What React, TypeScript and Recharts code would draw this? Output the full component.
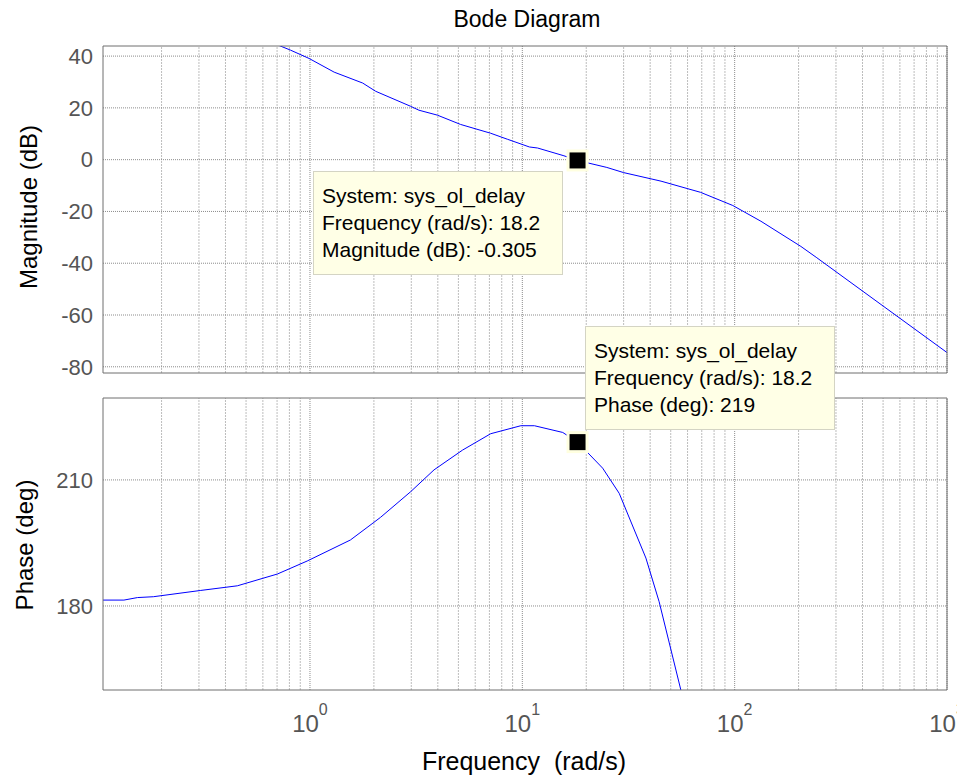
import React from 'react';
import { LineChart, Line, XAxis, YAxis, ReferenceLine, ReferenceDot } from 'recharts';

// magnitude curve (rad/s, dB)
const magFreq = [0.71, 0.81, 0.99, 1.3, 1.77, 2.04, 2.98, 3.26, 3.98, 5.12, 7.1, 8.5, 10.8, 11.8, 15.7, 18.2, 25, 30, 45, 69, 98, 133, 205, 242, 563, 1000];
const magDb = [44.2, 42.3, 39.1, 33.8, 29.6, 26.4, 20.6, 19.1, 17.2, 13.6, 10.2, 7.9, 4.9, 4.5, 1.5, -0.305, -3.0, -5.0, -8.3, -12.6, -17.7, -23.8, -33.5, -37.7, -59.6, -74.5];

// phase curve (rad/s, deg)
const phaseFreq = [0.106, 0.133, 0.154, 0.183, 0.306, 0.455, 0.702, 0.97, 1.55, 2.0, 2.15, 2.98, 3.84, 5.23, 7.1, 9.84, 11.4, 15.5, 18.2, 23.9, 28.6, 38.2, 44.1, 55.8];
const phaseDeg = [181.4, 181.4, 182.0, 182.2, 183.7, 184.8, 187.6, 190.7, 195.7, 199.9, 201.1, 207.2, 212.4, 217.1, 221.0, 222.9, 222.9, 221.3, 219.0, 212.8, 206.8, 191.4, 181.0, 160.0];

const decadeTicks = [1, 10, 100, 1000];
const decadeExp = ['0', '1', '2', '3'];
const minorTicks = [0.2, 0.3, 0.4, 0.5, 0.6, 0.7, 0.8, 0.9, 2, 3, 4, 5, 6, 7, 8, 9, 20, 30, 40, 50, 60, 70, 80, 90, 200, 300, 400, 500, 600, 700, 800, 900];
const magTicks = [-80, -60, -40, -20, 0, 20, 40];
const phaseTicks = [180, 210];

const markFreq = 18.2;
const markMag = -0.305;
const markPhase = 219;
const tipMag = ['System: sys_ol_delay', 'Frequency (rad/s): 18.2', 'Magnitude (dB): -0.305'];
const tipPhase = ['System: sys_ol_delay', 'Frequency (rad/s): 18.2', 'Phase (deg): 219'];

const xDomain = [0.106, 1000];
const magDomain = [-82.4, 43.9];
const phaseDomain = [160, 229.5];

const FONT = '"Liberation Sans", Arial, Helvetica, sans-serif';
const frameColor = '#6e6e6e';
const labelGray = '#555555';

const magData = magFreq.map((f, i) => ({ f, v: magDb[i] }));
const phaseData = phaseFreq.map((f, i) => ({ f, v: phaseDeg[i] }));

// MATLAB-ish box: inward ticks on all four sides (axes need a size > 0 or they don't render)
function frameAxes(yDomain: number[], yTicks: number[]) {
    const common = {
        type: 'number' as const,
        scale: 'log' as const,
        domain: xDomain,
        allowDataOverflow: true,
        mirror: true,
        height: 1,
        interval: 0,
        tick: false,
        tickLine: { stroke: frameColor },
    };
    return [
        <XAxis key="tmaj" xAxisId="tmaj" orientation="top" ticks={decadeTicks} tickSize={7} axisLine={{ stroke: frameColor }} {...common} />,
        <XAxis key="tmin" xAxisId="tmin" orientation="top" ticks={minorTicks} tickSize={4} axisLine={false} {...common} />,
        <XAxis key="bmaj" xAxisId="bmaj" orientation="bottom" ticks={decadeTicks} tickSize={7} axisLine={{ stroke: frameColor }} {...common} />,
        <XAxis key="bmin" xAxisId="bmin" orientation="bottom" ticks={minorTicks} tickSize={4} axisLine={false} {...common} />,
        <YAxis key="lt" yAxisId="lt" orientation="left" mirror width={1} type="number" domain={yDomain} allowDataOverflow ticks={yTicks} interval={0} tick={false} tickSize={6} axisLine={false} tickLine={{ stroke: frameColor }} />,
        <YAxis key="rt" yAxisId="rt" orientation="right" mirror width={1} type="number" domain={yDomain} allowDataOverflow ticks={yTicks} interval={0} tick={false} tickSize={6} axisLine={{ stroke: frameColor }} tickLine={{ stroke: frameColor }} />,
    ];
}

function gridLines(yTicks: number[]) {
    return [
        ...minorTicks.map(t => (
            <ReferenceLine key={`mn${t}`} xAxisId="x" yAxisId="l" x={t} stroke="#bdbdbd" strokeDasharray="2 1" />
        )),
        ...decadeTicks.map(t => (
            <ReferenceLine key={`mj${t}`} xAxisId="x" yAxisId="l" x={t} stroke="#8c8c8c" strokeDasharray="1 1" />
        )),
        ...yTicks.map(t => (
            <ReferenceLine key={`h${t}`} xAxisId="x" yAxisId="l" y={t} stroke="#8c8c8c" strokeDasharray="1 1" />
        )),
    ];
}

// eslint-disable-next-line @typescript-eslint/no-explicit-any
const MarkerShape = (props: any) => {
    const { cx, cy } = props;
    return (
        <g>
            <rect x={cx - 11} y={cy - 11} width={22} height={22} fill="#ffffe0" />
            <rect x={cx - 8} y={cy - 8} width={16} height={16} fill="#000" />
        </g>
    );
};

// eslint-disable-next-line @typescript-eslint/no-explicit-any
const DecadeTick = (props: any) => {
    const { x, y, payload } = props;
    const i = decadeTicks.indexOf(payload.value);
    return (
        <text x={x} y={y + 34} textAnchor="middle" fill={labelGray} fontSize={24} fontFamily={FONT}>
            10<tspan dy={-17} fontSize={16}>{decadeExp[i]}</tspan>
        </text>
    );
};

function DataTip({ left, top, lines }: { left: number; top: number; lines: string[] }) {
    return (
        <div
            style={{
                position: 'absolute',
                left,
                top,
                width: 250,
                height: 104,
                boxSizing: 'border-box',
                border: '1px solid #d4d4c4',
                background: '#ffffe6',
                padding: '10px 0 0 8px',
                fontSize: 21,
                lineHeight: '27px',
                color: '#000',
                whiteSpace: 'nowrap',
            }}
        >
            {lines.map(l => (
                <div key={l}>{l}</div>
            ))}
        </div>
    );
}

const yTitle = (text: string, cx: number, cy: number) => (
    <div
        style={{
            position: 'absolute',
            left: cx,
            top: cy,
            transform: 'translate(-50%, -50%) rotate(-90deg)',
            fontSize: 24,
            lineHeight: 1,
            whiteSpace: 'nowrap',
            color: '#000',
        }}
    >
        {text}
    </div>
);

export default function App() {
    return (
        <div style={{ position: 'absolute', left: 0, top: 0, width: 957, height: 778, background: '#fff', fontFamily: FONT, overflow: 'hidden' }}>
            <div style={{ position: 'absolute', left: 0, top: 0 }}>
                <LineChart width={957} height={380} data={magData} margin={{ top: 46, right: 10, bottom: 7, left: 0 }}>
                    <XAxis xAxisId="x" dataKey="f" type="number" scale="log" domain={xDomain} allowDataOverflow hide />
                    <YAxis
                        yAxisId="l"
                        orientation="left"
                        width={103}
                        type="number"
                        domain={magDomain}
                        allowDataOverflow
                        ticks={magTicks}
                        interval={0}
                        tickLine={false}
                        tickMargin={4}
                        axisLine={{ stroke: frameColor }}
                        tick={{ fill: labelGray, fontSize: 22, fontFamily: FONT }}
                    />
                    {frameAxes(magDomain, magTicks)}
                    {gridLines(magTicks)}
                    <Line xAxisId="x" yAxisId="l" dataKey="v" stroke="#0000ff" strokeWidth={1} dot={false} type="linear" isAnimationActive={false} />
                    <ReferenceDot xAxisId="x" yAxisId="l" x={markFreq} y={markMag} r={8} shape={MarkerShape} />
                </LineChart>
            </div>
            <div style={{ position: 'absolute', left: 0, top: 380 }}>
                <LineChart width={957} height={398} data={phaseData} margin={{ top: 18, right: 10, bottom: 0, left: 0 }}>
                    <XAxis
                        xAxisId="x"
                        dataKey="f"
                        type="number"
                        scale="log"
                        domain={xDomain}
                        allowDataOverflow
                        height={88}
                        ticks={decadeTicks}
                        interval={0}
                        tickLine={false}
                        axisLine={false}
                        tick={DecadeTick}
                    />
                    <YAxis
                        yAxisId="l"
                        orientation="left"
                        width={103}
                        type="number"
                        domain={phaseDomain}
                        allowDataOverflow
                        ticks={phaseTicks}
                        interval={0}
                        tickLine={false}
                        tickMargin={4}
                        axisLine={{ stroke: frameColor }}
                        tick={{ fill: labelGray, fontSize: 22, fontFamily: FONT }}
                    />
                    {frameAxes(phaseDomain, phaseTicks)}
                    {gridLines(phaseTicks)}
                    <Line xAxisId="x" yAxisId="l" dataKey="v" stroke="#0000ff" strokeWidth={1} dot={false} type="linear" isAnimationActive={false} />
                    <ReferenceDot xAxisId="x" yAxisId="l" x={markFreq} y={markPhase} r={8} shape={MarkerShape} />
                </LineChart>
            </div>

            <div style={{ position: 'absolute', left: 527, top: 8, transform: 'translateX(-50%)', fontSize: 23, lineHeight: 1, whiteSpace: 'nowrap', color: '#000' }}>
                Bode Diagram
            </div>
            {yTitle('Magnitude (dB)', 29, 207)}
            {yTitle('Phase (deg)', 25, 545)}
            <div style={{ position: 'absolute', left: 524, top: 749, transform: 'translateX(-50%)', fontSize: 25, lineHeight: 1, whiteSpace: 'pre', color: '#000' }}>
                {'Frequency  (rad/s)'}
            </div>

            <DataTip left={313} top={171} lines={tipMag} />
            <DataTip left={585} top={326} lines={tipPhase} />
        </div>
    );
}
